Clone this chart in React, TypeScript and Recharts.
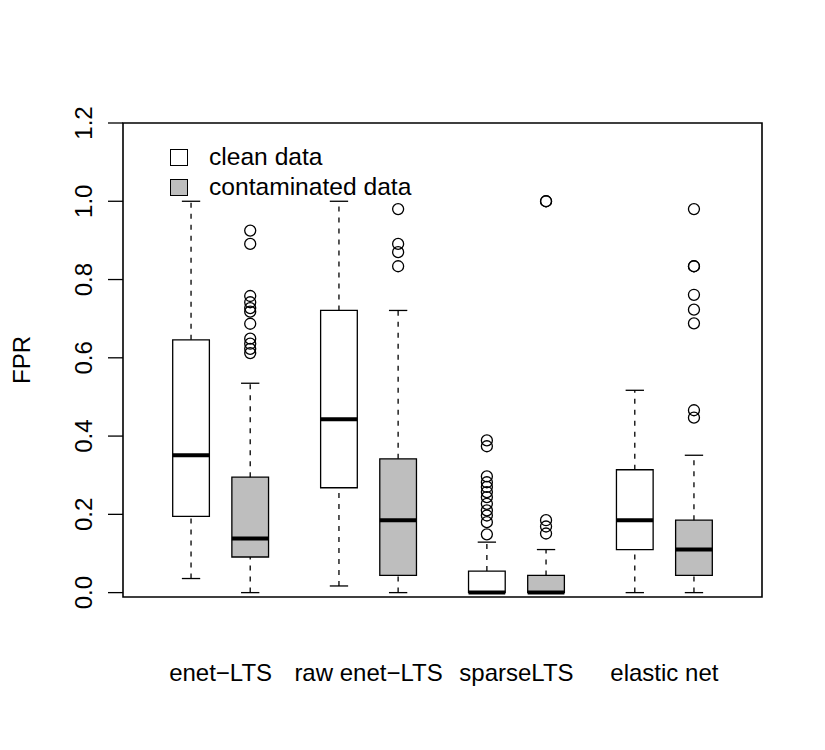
import {
  Legend,
  ReferenceArea,
  ReferenceLine,
  Scatter,
  ScatterChart,
  XAxis,
  YAxis,
} from 'recharts'

const methods = ['enet−LTS', 'raw enet−LTS', 'sparseLTS', 'elastic net']
const seriesNames = ['clean data', 'contaminated data']
const yTicks = [0, 0.2, 0.4, 0.6, 0.8, 1.0, 1.2]

// five-number summaries per method (whisker low, Q1, median, Q3, whisker high)
const cleanLow = [0.036, 0.017, 0, 0]
const cleanQ1 = [0.195, 0.268, 0, 0.11]
const cleanMedian = [0.351, 0.443, 0, 0.185]
const cleanQ3 = [0.646, 0.721, 0.055, 0.314]
const cleanHigh = [1.0, 1.0, 0.129, 0.517]

const contamLow = [0, 0, 0, 0]
const contamQ1 = [0.091, 0.044, 0, 0.044]
const contamMedian = [0.138, 0.185, 0, 0.11]
const contamQ3 = [0.295, 0.342, 0.044, 0.185]
const contamHigh = [0.535, 0.721, 0.11, 0.351]

const cleanOutliers = [
  [],
  [],
  [0.389, 0.374, 0.297, 0.282, 0.27, 0.257, 0.244, 0.227, 0.21, 0.197, 0.18, 0.149],
  [],
]
const contamOutliers = [
  [0.925, 0.891, 0.758, 0.742, 0.727, 0.718, 0.687, 0.649, 0.636, 0.623, 0.612],
  [0.98, 0.891, 0.87, 0.834],
  [1.0, 1.0, 0.185, 0.169, 0.151],
  [0.98, 0.834, 0.834, 0.761, 0.723, 0.688, 0.466, 0.447],
]

const FONT = 'Liberation Sans, Arial, Helvetica, sans-serif'
const GREY = '#bebebe'
const BOX_HALF = 0.31
const CAP_HALF = 0.155

const groupStart = (i: number) => i * 2.5 + 1
const labelAt = methods.map((_, i) => groupStart(i) + 0.5)

type Stats = { low: number; q1: number; med: number; q3: number; high: number }

function boxElements(key: string, x: number, s: Stats, fill: string) {
  return [
    <ReferenceLine
      key={`${key}-wl`}
      segment={[{ x, y: s.low }, { x, y: s.q1 }]}
      stroke="#000"
      strokeWidth={1.3}
      strokeDasharray="5 6"
      ifOverflow="visible"
    />,
    <ReferenceLine
      key={`${key}-wh`}
      segment={[{ x, y: s.q3 }, { x, y: s.high }]}
      stroke="#000"
      strokeWidth={1.3}
      strokeDasharray="5 6"
      ifOverflow="visible"
    />,
    <ReferenceLine
      key={`${key}-cl`}
      segment={[{ x: x - CAP_HALF, y: s.low }, { x: x + CAP_HALF, y: s.low }]}
      stroke="#000"
      strokeWidth={1.3}
      ifOverflow="visible"
    />,
    <ReferenceLine
      key={`${key}-ch`}
      segment={[{ x: x - CAP_HALF, y: s.high }, { x: x + CAP_HALF, y: s.high }]}
      stroke="#000"
      strokeWidth={1.3}
      ifOverflow="visible"
    />,
    <ReferenceArea
      key={`${key}-box`}
      x1={x - BOX_HALF}
      x2={x + BOX_HALF}
      y1={s.q1}
      y2={s.q3}
      fill={fill}
      fillOpacity={1}
      stroke="#000"
      strokeWidth={1.3}
      ifOverflow="visible"
    />,
    <ReferenceLine
      key={`${key}-med`}
      segment={[{ x: x - BOX_HALF, y: s.med }, { x: x + BOX_HALF, y: s.med }]}
      stroke="#000"
      strokeWidth={4}
      ifOverflow="visible"
    />,
  ]
}

const cleanStats = methods.map((_, i) => ({
  low: cleanLow[i],
  q1: cleanQ1[i],
  med: cleanMedian[i],
  q3: cleanQ3[i],
  high: cleanHigh[i],
}))
const contamStats = methods.map((_, i) => ({
  low: contamLow[i],
  q1: contamQ1[i],
  med: contamMedian[i],
  q3: contamQ3[i],
  high: contamHigh[i],
}))

const outlierPoints = methods.flatMap((_, i) => [
  ...cleanOutliers[i].map((y) => ({ x: groupStart(i), y })),
  ...contamOutliers[i].map((y) => ({ x: groupStart(i) + 1, y })),
])

function OpenCircle(props: any) {
  return (
    <circle cx={props.cx} cy={props.cy} r={5.5} fill="none" stroke="#000" strokeWidth={1.3} />
  )
}

function LegendBox() {
  return (
    <div style={{ fontFamily: FONT, fontSize: 24.6, color: '#000', lineHeight: '30px' }}>
      {seriesNames.map((name, i) => (
        <div key={name} style={{ display: 'flex', alignItems: 'center' }}>
          <span
            style={{
              display: 'inline-block',
              width: 16,
              height: 15,
              border: '1.3px solid #000',
              background: i === 0 ? '#fff' : GREY,
              marginRight: 21,
            }}
          />
          {name}
        </div>
      ))}
    </div>
  )
}

export default function App() {
  return (
    <div style={{ position: 'absolute', left: 0, top: 0, background: '#fff' }}>
      <ScatterChart
        width={825}
        height={750}
        margin={{ top: 123, right: 63, bottom: 53, left: 0 }}
      >
        <XAxis
          type="number"
          dataKey="x"
          domain={[-0.15, 10.65]}
          allowDataOverflow
          ticks={labelAt}
          interval={0}
          height={100}
          axisLine={false}
          tickLine={false}
          tickSize={0}
          tickMargin={0}
          tick={(p: any) => (
            <text
              x={p.x}
              y={p.y + 84}
              textAnchor="middle"
              fontFamily={FONT}
              fontSize={24}
              fill="#000"
            >
              {methods[p.index]}
            </text>
          )}
        />
        <YAxis
          type="number"
          dataKey="y"
          domain={[-0.0112, 1.2]}
          allowDataOverflow
          ticks={yTicks}
          interval={0}
          width={123}
          axisLine={false}
          tickLine={{ stroke: '#000', strokeWidth: 1.3 }}
          tickSize={15}
          tickMargin={16}
          tick={(p: any) => (
            <text
              x={p.x}
              y={p.y}
              transform={`rotate(-90, ${p.x}, ${p.y})`}
              textAnchor="middle"
              fontFamily={FONT}
              fontSize={24}
              fill="#000"
            >
              {Number(p.payload.value).toFixed(1)}
            </text>
          )}
          label={{
            content: (lp: any) => {
              const vb = lp.viewBox
              const cx = 30
              const cy = vb.y + vb.height / 2
              return (
                <text
                  x={cx}
                  y={cy}
                  transform={`rotate(-90, ${cx}, ${cy})`}
                  textAnchor="middle"
                  fontFamily={FONT}
                  fontSize={24}
                  fill="#000"
                >
                  FPR
                </text>
              )
            },
          }}
        />
        {methods.flatMap((_, i) => [
          ...boxElements(`c${i}`, groupStart(i), cleanStats[i], '#fff'),
          ...boxElements(`k${i}`, groupStart(i) + 1, contamStats[i], GREY),
        ])}
        <ReferenceArea
          x1={-0.15}
          x2={10.65}
          y1={-0.0112}
          y2={1.2}
          fill="none"
          stroke="#000"
          strokeWidth={1.6}
          ifOverflow="visible"
        />
        <Scatter
          data={outlierPoints}
          shape={OpenCircle}
          isAnimationActive={false}
        />
        <Legend
          layout="horizontal"
          verticalAlign="middle"
          align="center"
          content={() => <LegendBox />}
          wrapperStyle={{ left: 170, top: 142, width: 'auto' }}
        />
      </ScatterChart>
    </div>
  )
}
